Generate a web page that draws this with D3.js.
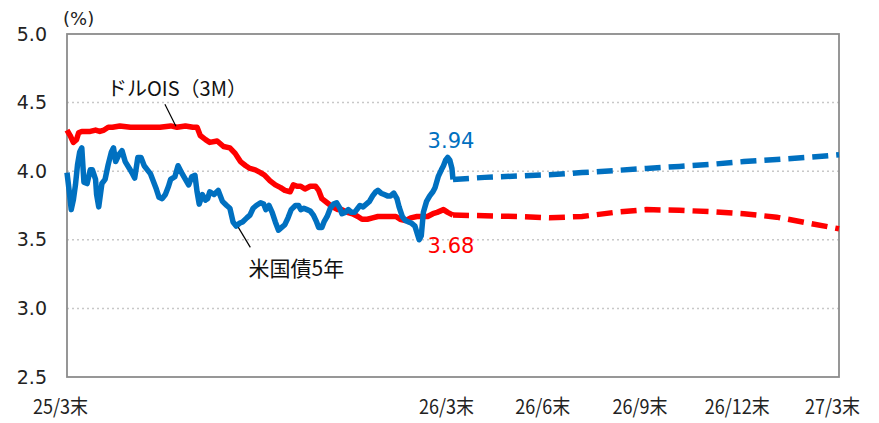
<!DOCTYPE html>
<html><head><meta charset="utf-8">
<script src="https://cdn.jsdelivr.net/npm/d3@7"></script>
<style>html,body{margin:0;padding:0;background:#fff;}svg{display:block;}</style>
</head><body>
<svg id="c" width="879" height="423"></svg>
<script>
// ---- data ----
// historical series: [days since 2025-03-31, value %]
const oisHist = [[0,4.30],[3,4.26],[6,4.21],[9,4.23],[11,4.28],[14,4.29],[18,4.29],[22,4.29],[27,4.30],[31,4.29],[35,4.30],[39,4.32],[43,4.32],[50,4.33],[60,4.32],[69,4.32],[79,4.32],[88,4.32],[98,4.33],[104,4.32],[112,4.33],[119,4.32],[123,4.32],[126,4.26],[131,4.23],[135,4.21],[142,4.22],[148,4.18],[154,4.17],[159,4.13],[164,4.07],[169,4.04],[173,4.02],[178,4.01],[183,3.99],[187,3.97],[192,3.93],[197,3.90],[202,3.88],[206,3.86],[211,3.85],[214,3.90],[218,3.89],[221,3.89],[225,3.87],[230,3.89],[235,3.89],[238,3.86],[241,3.80],[246,3.77],[251,3.74],[256,3.72],[260,3.72],[265,3.70],[270,3.69],[275,3.67],[279,3.65],[284,3.65],[289,3.66],[294,3.67],[299,3.67],[306,3.67],[311,3.67],[315,3.65],[320,3.64],[325,3.66],[331,3.67],[336,3.67],[341,3.67],[346,3.69],[350,3.70],[356,3.72],[360,3.70],[365,3.68]];
const ust5Hist = [[0,3.99],[2,3.86],[4,3.72],[6,3.79],[8,3.90],[10,4.05],[12,4.14],[14,4.17],[16,3.92],[19,3.91],[22,4.01],[24,4.01],[27,3.94],[28,3.83],[30,3.74],[33,3.91],[36,3.94],[39,4.05],[42,4.14],[44,4.17],[46,4.07],[49,4.12],[52,4.15],[55,4.07],[59,4.02],[62,3.98],[64,3.95],[67,4.10],[70,4.10],[73,4.04],[76,4.01],[79,3.98],[81,3.94],[84,3.88],[87,3.81],[90,3.80],[93,3.83],[96,3.89],[98,3.94],[102,3.96],[105,4.04],[109,3.98],[112,3.94],[115,3.90],[118,3.96],[121,3.97],[123,3.85],[125,3.76],[128,3.83],[131,3.79],[133,3.80],[135,3.85],[139,3.83],[143,3.86],[147,3.78],[151,3.75],[154,3.73],[157,3.63],[160,3.60],[163,3.62],[166,3.63],[170,3.66],[173,3.68],[176,3.73],[179,3.75],[183,3.77],[186,3.76],[188,3.72],[191,3.75],[194,3.70],[197,3.63],[200,3.57],[203,3.59],[206,3.61],[209,3.66],[212,3.72],[216,3.75],[219,3.75],[221,3.72],[224,3.73],[227,3.72],[230,3.71],[233,3.68],[236,3.63],[238,3.59],[241,3.59],[243,3.63],[246,3.67],[249,3.73],[252,3.76],[255,3.77],[258,3.73],[260,3.69],[263,3.70],[266,3.72],[269,3.70],[272,3.70],[275,3.73],[277,3.75],[280,3.74],[283,3.76],[286,3.78],[289,3.82],[292,3.85],[294,3.86],[297,3.84],[300,3.83],[303,3.82],[306,3.82],[309,3.84],[312,3.80],[314,3.74],[317,3.67],[320,3.64],[323,3.63],[326,3.62],[329,3.60],[331,3.55],[333,3.50],[335,3.53],[337,3.70],[340,3.78],[343,3.82],[346,3.85],[348,3.88],[351,3.96],[354,4.01],[356,4.04],[358,4.08],[360,4.10],[362,4.08],[364,4.02],[365,3.94]];
// forecasts: month-ends 26/3 .. 27/3
const fcMonths = ["2026-03","2026-04","2026-05","2026-06","2026-07","2026-08","2026-09","2026-10","2026-11","2026-12","2027-01","2027-02","2027-03"];
const oisFc  = [3.68,3.675,3.67,3.66,3.67,3.70,3.72,3.715,3.705,3.69,3.665,3.625,3.58];
const ust5Fc = [3.94,3.955,3.965,3.975,3.99,4.005,4.02,4.035,4.05,4.07,4.085,4.10,4.12];
const xTicks = ["2025-03","2026-03","2026-06","2026-09","2026-12","2027-03"];
const xTickLabels = ["25/3末","26/3末","26/6末","26/9末","26/12末","27/3末"];
const yTicks = [2.5,3.0,3.5,4.0,4.5,5.0];
const seriesNames = ["ドルOIS（3M）","米国債5年"];
const lastLabels = ["3.68","3.94"];
const colors = {ois:"#FF0000", ust:"#0070C0"};

// ---- helpers ----
const base = new Date(2025,2,31);
const dayDate = d => new Date(2025,2,31+d);
const monthEnd = s => { const [y,m] = s.split("-").map(Number); return new Date(y,m,0); };

const svg = d3.select("#c");
const L=67,R=839,T=34,B=377;
const x = d3.scaleTime().domain([base, new Date(2027,2,31)]).range([L,R]);
const y = d3.scaleLinear().domain([2.5,5.0]).range([B,T]);

// gridlines
svg.append("g").selectAll("line").data(yTicks.filter(v=>v>2.5&&v<5.0)).join("line")
  .attr("x1",L).attr("x2",R).attr("y1",d=>y(d)).attr("y2",d=>y(d))
  .attr("stroke","#c8c8c8").attr("stroke-width",1.5).attr("stroke-dasharray","2,3");

// y axis labels
const yAxis = d3.axisLeft(y).tickValues(yTicks).tickFormat(d3.format(".1f")).tickSize(0).tickPadding(0);
const ya = svg.append("g").attr("transform",`translate(${L-20},0)`).call(yAxis);
ya.select(".domain").remove();
ya.selectAll("text").attr("font-family","'DejaVu Sans',Verdana,sans-serif").attr("font-size",19).attr("fill","#222");

// x axis labels
const xAxis = d3.axisBottom(x).tickValues(xTicks.map(monthEnd)).tickFormat((d,i)=>xTickLabels[i]).tickSize(0).tickPadding(0);
const xa = svg.append("g").attr("transform",`translate(0,${B+23})`).call(xAxis);
xa.select(".domain").remove();
xa.selectAll("text").attr("font-family","'Noto Sans CJK JP',sans-serif").attr("font-size",20).attr("fill","#222")
  .attr("dx",-7)
  .style("transform-box","fill-box").style("transform-origin","center").style("transform","scaleX(0.9)");

// unit
svg.append("text").attr("x",L-4).attr("y",T-9).text("(%)")
  .attr("font-family","'DejaVu Sans',Verdana,sans-serif").attr("font-size",18).attr("fill","#222");

// plot frame
svg.append("rect").attr("x",L).attr("y",T).attr("width",R-L).attr("height",B-T)
  .attr("fill","none").attr("stroke","#8c8c8c").attr("stroke-width",1.8);

// lines
const line = d3.line().x(d=>x(d[0])).y(d=>y(d[1]));
const histPts = arr => arr.map(([d,v])=>[dayDate(d),v]);
const fcPts = arr => arr.map((v,i)=>[monthEnd(fcMonths[i]),v]);

function drawSeries(hist, fc, color){
  svg.append("path").attr("d",line(fcPts(fc))).attr("fill","none").attr("stroke",color)
    .attr("stroke-width",5.5).attr("stroke-dasharray","16,8");
  svg.append("path").attr("d",line(histPts(hist))).attr("fill","none").attr("stroke",color)
    .attr("stroke-width",5.5).attr("stroke-linejoin","round");
}
drawSeries(oisHist, oisFc, colors.ois);
drawSeries(ust5Hist, ust5Fc, colors.ust);

// last value labels
const lastDate = monthEnd(fcMonths[0]);
svg.append("text").attr("x",x(lastDate)-2).attr("y",y(ust5Fc[0])-31).attr("text-anchor","middle")
  .attr("font-family","'DejaVu Sans',Verdana,sans-serif").attr("font-size",21).attr("fill",colors.ust).text(lastLabels[1]);
svg.append("text").attr("x",x(lastDate)-2).attr("y",y(oisFc[0])+38).attr("text-anchor","middle")
  .attr("font-family","'DejaVu Sans',Verdana,sans-serif").attr("font-size",21).attr("fill",colors.ois).text(lastLabels[0]);

// series annotations with leader lines (anchored to data points)
const annFont = "'Noto Sans CJK JP',sans-serif";
// OIS
const oisAnchor = [dayDate(103), 4.32];
svg.append("line").attr("x1",x(oisAnchor[0])).attr("y1",y(oisAnchor[1])-1)
  .attr("x2",x(oisAnchor[0])-11).attr("y2",y(oisAnchor[1])-23).attr("stroke","#000").attr("stroke-width",1.2);
svg.append("text").attr("x",x(oisAnchor[0])+1).attr("y",y(oisAnchor[1])-31).attr("text-anchor","middle")
  .attr("font-family",annFont).attr("font-size",20).attr("fill","#111").text(seriesNames[0]);
// UST 5y
const ustAnchor = [dayDate(162), 3.62];
svg.append("line").attr("x1",x(ustAnchor[0])).attr("y1",y(ustAnchor[1])+4)
  .attr("x2",x(ustAnchor[0])+12).attr("y2",y(ustAnchor[1])+24).attr("stroke","#000").attr("stroke-width",1.2);
svg.append("text").attr("x",x(ustAnchor[0])+58).attr("y",y(ustAnchor[1])+53).attr("text-anchor","middle")
  .attr("font-family",annFont).attr("font-size",21).attr("fill","#111").text(seriesNames[1]);
</script>
</body></html>
